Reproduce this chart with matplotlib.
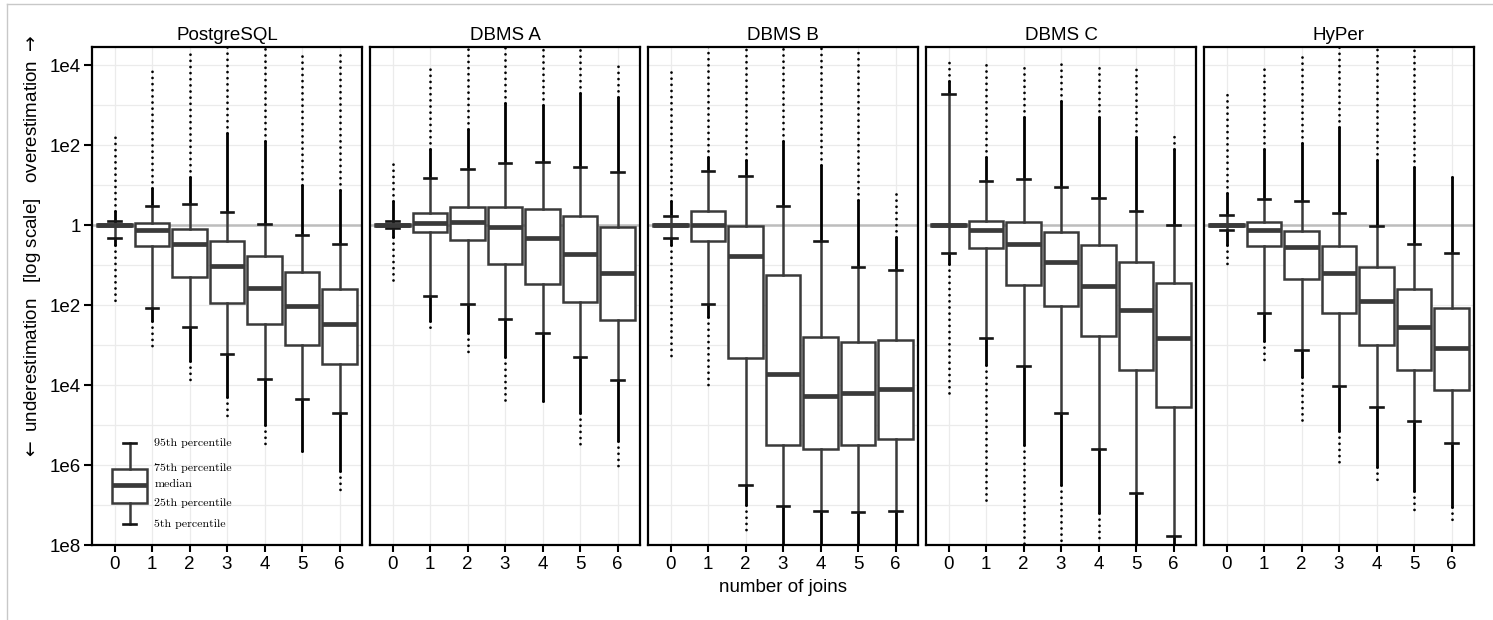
import numpy as np
import matplotlib.pyplot as plt
from matplotlib.lines import Line2D

plt.rcParams['font.family'] = ['Liberation Sans', 'DejaVu Sans']

systems = ["PostgreSQL", "DBMS A", "DBMS B", "DBMS C", "HyPer"]
joins = [0, 1, 2, 3, 4, 5, 6]

# signed log10 q-error (negative = underestimation), one row per system
q05 = [[-0.32, -2.06, -2.55, -3.23, -3.84, -4.34, -4.70],
       [-0.08, -1.78, -1.96, -2.34, -2.70, -3.30, -3.88],
       [-0.32, -1.98, -6.49, -7.02, -7.14, -7.17, -7.16],
       [-0.70, -2.82, -3.53, -4.69, -5.61, -6.69, -7.77],
       [-0.13, -2.20, -3.13, -4.03, -4.54, -4.91, -5.44]]
q25 = [[-0.03, -0.53, -1.30, -1.94, -2.46, -2.99, -3.46],
       [-0.03, -0.18, -0.38, -0.98, -1.46, -1.92, -2.36],
       [-0.03, -0.39, -3.31, -5.49, -5.61, -5.49, -5.36],
       [-0.03, -0.58, -1.50, -2.02, -2.77, -3.63, -4.54],
       [-0.03, -0.53, -1.35, -2.20, -2.99, -3.63, -4.11]]
q50 = [[0.00, -0.13, -0.48, -1.02, -1.57, -2.03, -2.48],
       [0.00, 0.05, 0.08, -0.05, -0.32, -0.73, -1.20],
       [0.00, 0.00, -0.78, -3.73, -4.28, -4.19, -4.09],
       [0.00, -0.13, -0.48, -0.93, -1.52, -2.13, -2.82],
       [0.00, -0.13, -0.54, -1.20, -1.90, -2.55, -3.08]]
q75 = [[0.03, 0.06, -0.10, -0.39, -0.77, -1.18, -1.60],
       [0.03, 0.30, 0.45, 0.45, 0.40, 0.23, -0.04],
       [0.03, 0.35, -0.02, -1.25, -2.80, -2.92, -2.86],
       [0.03, 0.10, 0.07, -0.18, -0.50, -0.93, -1.45],
       [0.03, 0.08, -0.14, -0.53, -1.04, -1.60, -2.06]]
q95 = [[0.10, 0.48, 0.53, 0.32, 0.03, -0.25, -0.48],
       [0.11, 1.19, 1.40, 1.56, 1.58, 1.46, 1.32],
       [0.23, 1.35, 1.23, 0.48, -0.40, -1.04, -1.11],
       [3.28, 1.11, 1.15, 0.96, 0.68, 0.36, 0.00],
       [0.25, 0.66, 0.60, 0.31, -0.02, -0.46, -0.70]]

# outliers: end of the dense stream and the most extreme point, above and below
hi_dense = [[0.35, 0.93, 1.20, 2.30, 2.10, 1.00, 0.88],
            [0.60, 1.90, 2.40, 3.05, 3.00, 3.30, 3.20],
            [0.60, 1.70, 1.63, 2.10, 1.50, 0.63, -0.30],
            [3.60, 1.70, 2.70, 3.10, 2.70, 2.20, 1.90],
            [0.80, 1.90, 2.05, 2.46, 1.63, 1.46, 1.20]]
hi_max = [[2.30, 3.96, 4.40, 4.50, 4.50, 4.34, 4.29],
          [1.63, 4.03, 4.50, 4.50, 4.50, 4.50, 4.12],
          [3.98, 4.50, 4.50, 4.50, 4.50, 4.33, 0.81],
          [4.12, 4.11, 3.96, 4.03, 4.03, 4.03, 2.23],
          [3.32, 3.97, 4.30, 4.50, 4.50, 4.50, 1.30]]
lo_dense = [[-0.50, -2.40, -3.40, -4.30, -5.00, -5.64, -6.14],
            [-0.30, -2.40, -2.70, -3.30, -4.40, -4.70, -5.40],
            [-0.50, -2.30, -7.00, -8.00, -8.00, -8.00, -8.00],
            [-0.96, -3.50, -5.50, -6.50, -7.20, -8.00, -8.00],
            [-0.50, -2.90, -3.80, -5.14, -6.06, -6.64, -7.06]]
lo_min = [[-1.96, -3.10, -3.96, -4.84, -5.58, -5.78, -6.62],
          [-1.50, -2.69, -3.24, -4.43, -4.51, -5.59, -6.08],
          [-3.36, -4.09, -7.64, -8.00, -8.00, -8.00, -8.00],
          [-4.33, -6.89, -8.00, -7.90, -7.90, -8.00, -8.00],
          [-1.02, -3.38, -4.86, -5.94, -6.43, -7.12, -7.39]]

yticks = [4, 2, 0, -2, -4, -6, -8]
ytick_labels = ["1e4", "1e2", "1", "1e2", "1e4", "1e6", "1e8"]

legend_stats = {'whishi': -5.44, 'q3': -6.09, 'med': -6.49, 'q1': -6.94, 'whislo': -7.47}
legend_labels = ["95th percentile", "75th percentile", "median", "25th percentile", "5th percentile"]

box_col = '#3a3a3a'
W, H = 1493, 620
fig = plt.figure(figsize=(W / 100, H / 100), dpi=100)

# thin grey frame around the picture
fig.add_artist(Line2D([7 / W, 7 / W], [0, 1 - 4 / H], color='#c8c8c8', lw=1))
fig.add_artist(Line2D([7 / W, 1], [1 - 4 / H, 1 - 4 / H], color='#c8c8c8', lw=1))

props = dict(boxprops=dict(edgecolor=box_col, linewidth=1.8, facecolor='white'),
             medianprops=dict(color=box_col, linewidth=3.4, solid_capstyle='butt'),
             whiskerprops=dict(color=box_col, linewidth=1.8),
             capprops=dict(color='#151515', linewidth=1.9))

lefts = [92, 370, 648, 926, 1204]
for k, name in enumerate(systems):
    ax = fig.add_axes([lefts[k] / W, 75 / H, 270 / W, 498 / H])
    ax.set_xlim(-0.6, 6.6)
    ax.set_ylim(-8, 4.46)
    ax.set_yticks(yticks)
    ax.set_yticks(np.arange(-7, 5, 2), minor=True)
    ax.set_xticks(joins)
    ax.grid(which='both', color='#ebebeb', linewidth=0.9, zorder=0)
    ax.set_axisbelow(True)
    ax.axhline(0, color='#bdbdbd', linewidth=1.8, zorder=1)

    # outlier streams
    for j in joins:
        ax.plot([j, j], [q95[k][j], hi_dense[k][j]], color='black', lw=2.0,
                solid_capstyle='round', zorder=2)
        ax.plot([j, j], [hi_dense[k][j], hi_max[k][j]], color='black', lw=2.0,
                linestyle=(0, (0.01, 2.2)), dash_capstyle='round', zorder=2)
        ax.plot([j, j], [q05[k][j], lo_dense[k][j]], color='black', lw=2.0,
                solid_capstyle='round', zorder=2)
        ax.plot([j, j], [lo_dense[k][j], lo_min[k][j]], color='black', lw=2.0,
                linestyle=(0, (0.01, 2.2)), dash_capstyle='round', zorder=2)

    stats = [{'whislo': q05[k][j], 'q1': q25[k][j], 'med': q50[k][j],
              'q3': q75[k][j], 'whishi': q95[k][j], 'fliers': []} for j in joins]
    ax.bxp(stats, positions=joins, widths=0.92, patch_artist=True,
           showfliers=False, manage_ticks=False, capwidths=0.33,
           zorder=3, **props)

    ax.set_title(name, fontsize=13.5, pad=5)
    for s in ax.spines.values():
        s.set_linewidth(1.6)
        s.set_color('black')
    ax.tick_params(axis='x', length=5, width=1.5, labelsize=13.5, pad=3)
    ax.tick_params(which='minor', length=0)
    if k == 0:
        ax.set_yticklabels(ytick_labels)
        ax.tick_params(axis='y', length=6, width=1.5, labelsize=13.5, pad=2)

        st = dict(legend_stats, fliers=[])
        ax.bxp([st], positions=[0.4], widths=0.95, patch_artist=True,
               showfliers=False, manage_ticks=False, capwidths=0.33,
               zorder=3, **props)
        for lab, yv in zip(legend_labels, [-5.44, -6.07, -6.49, -6.94, -7.47]):
            ax.text(1.06, yv, lab, family='cmr10', fontsize=8.6, va='center',
                    ha='left', zorder=4)
    else:
        ax.tick_params(axis='y', length=0, labelleft=False)

fig.text(33 / W, 1 - 248 / H,
         r"$\leftarrow$ underestimation   [log scale]   overestimation $\rightarrow$",
         rotation=90, ha='center', va='center', fontsize=13.5)
fig.text(783 / W, 1 - 588 / H, "number of joins", ha='center', va='center',
         fontsize=13.5)

fig.savefig("out.png", dpi=100)
